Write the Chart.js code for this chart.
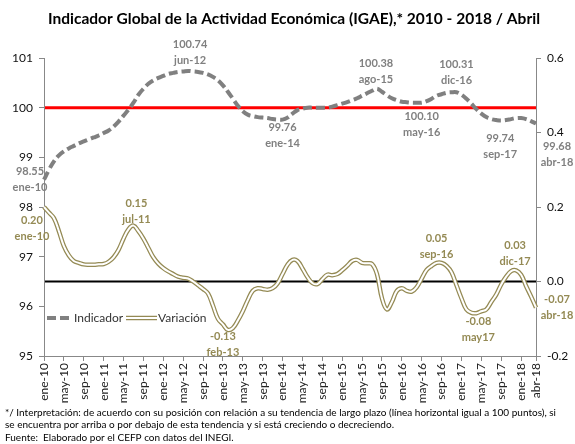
<!DOCTYPE html>
<html>
<head>
<meta charset="utf-8">
<script src="https://cdn.jsdelivr.net/npm/chart.js@4.4.1/dist/chart.umd.min.js"></script>
<style>
  html, body { margin: 0; padding: 0; background: #fff; }
  #chart { display: block; }
</style>
</head>
<body>
<canvas id="chart" width="575" height="444"></canvas>
<script>
// Monthly series, ene-10 .. abr-18
const monthNames = ['ene', 'feb', 'mar', 'abr', 'may', 'jun', 'jul', 'ago', 'sep', 'oct', 'nov', 'dic'];
const years = ['10', '11', '12', '13', '14', '15', '16', '17', '18'];

const indicador = [
  98.55, 98.75, 98.92, 99.04, 99.12, 99.18, 99.23, 99.28, 99.32, 99.36, 99.40, 99.44,
  99.49, 99.54, 99.62, 99.72, 99.84, 99.96, 100.10, 100.26, 100.38, 100.48, 100.55, 100.60,
  100.64, 100.68, 100.70, 100.72, 100.73, 100.74, 100.73, 100.72, 100.70, 100.67, 100.62, 100.55,
  100.45, 100.32, 100.18, 100.04, 99.93, 99.86, 99.83, 99.81, 99.80, 99.79, 99.77, 99.76,
  99.76, 99.80, 99.88, 99.95, 99.98, 100.00, 100.00, 100.00, 100.00, 100.00, 100.02, 100.05,
  100.08, 100.11, 100.15, 100.19, 100.24, 100.29, 100.34, 100.38, 100.32, 100.25, 100.19, 100.15,
  100.12, 100.11, 100.10, 100.10, 100.10, 100.13, 100.18, 100.24, 100.27, 100.30, 100.31, 100.31,
  100.26, 100.18, 100.08, 99.97, 99.88, 99.81, 99.77, 99.75, 99.74, 99.75, 99.77, 99.79,
  99.79, 99.77, 99.73, 99.68
];

const variacion = [
  0.20, 0.185, 0.17, 0.135, 0.095, 0.07, 0.055, 0.05, 0.046, 0.045, 0.045, 0.046,
  0.047, 0.053, 0.065, 0.085, 0.115, 0.14, 0.15, 0.135, 0.115, 0.09, 0.065, 0.048,
  0.036, 0.027, 0.02, 0.013, 0.01, 0.008, 0.0, -0.01, -0.02, -0.032, -0.065, -0.10,
  -0.115, -0.13, -0.125, -0.105, -0.08, -0.05, -0.025, -0.018, -0.02, -0.022, -0.018, -0.005,
  0.02, 0.045, 0.058, 0.055, 0.035, 0.012, -0.004, -0.007, 0.006, 0.018, 0.017, 0.02,
  0.03, 0.042, 0.055, 0.058, 0.05, 0.049, 0.047, 0.02, -0.045, -0.075, -0.055, -0.025,
  -0.018, -0.025, -0.027, -0.015, 0.008, 0.031, 0.042, 0.05, 0.05, 0.042, 0.025, -0.01,
  -0.045, -0.075, -0.084, -0.085, -0.08, -0.075, -0.055, -0.035, -0.008, 0.013, 0.028, 0.03,
  0.018, -0.012, -0.04, -0.07
];

// Reference levels
const tendenciaIndicador = 100;
const tendenciaVariacion = 0;

// Axis ticks
const leftTicks = [95, 96, 97, 98, 99, 100, 101];
const rightTicks = [-0.2, 0.0, 0.2, 0.4, 0.6];

// Annotated points: [index, value label, date label]
const indicadorLabels = [
  [0, '98.55', 'ene-10'],
  [29, '100.74', 'jun-12'],
  [48, '99.76', 'ene-14'],
  [67, '100.38', 'ago-15'],
  [76, '100.10', 'may-16'],
  [83, '100.31', 'dic-16'],
  [92, '99.74', 'sep-17'],
  [99, '99.68', 'abr-18']
];
const variacionLabels = [
  [0, '0.20', 'ene-10'],
  [18, '0.15', 'jul-11'],
  [37, '-0.13', 'feb-13'],
  [80, '0.05', 'sep-16'],
  [88, '-0.08', 'may17'],
  [95, '0.03', 'dic-17'],
  [99, '-0.07', 'abr-18']
];

const categories = [];
years.forEach(y => monthNames.forEach(m => categories.push(m + '-' + y)));
categories.length = indicador.length;

// label offsets from the point (dx, dy of first line centre)
const indOffsets = {0: [-14, -8], 29: [2, -26], 48: [0, 8], 67: [-1, -25], 76: [0, 14], 83: [0, -28], 92: [-1, 18], 99: [21, 23]};
const varOffsets = {0: [-12, 13], 18: [3, -22], 37: [-5, 7], 80: [-5, -24], 88: [-3, 10], 95: [-1, -25], 99: [21, -8]};

const GRAY = '#808080';
const OLIVE = '#948A54';
const FONT = 'Lato, "Open Sans", sans-serif';

Chart.defaults.font.family = FONT;
Chart.defaults.color = '#222';

const decorPlugin = {
  id: 'decor',
  beforeDatasetsDraw(chart) {
    const ctx = chart.ctx;
    const area = chart.chartArea;
    const yL = chart.scales.y, yR = chart.scales.y1;
    ctx.save();
    ctx.lineWidth = 3;
    ctx.strokeStyle = '#FF0000';
    let py = yL.getPixelForValue(tendenciaIndicador);
    ctx.beginPath(); ctx.moveTo(area.left + 1, py); ctx.lineTo(area.right, py); ctx.stroke();
    ctx.lineWidth = 2;
    ctx.strokeStyle = '#000';
    py = yR.getPixelForValue(tendenciaVariacion);
    ctx.beginPath(); ctx.moveTo(area.left + 1, py); ctx.lineTo(area.right, py); ctx.stroke();
    ctx.restore();
  },
  afterDraw(chart) {
    const ctx = chart.ctx;
    const x = chart.scales.x, yL = chart.scales.y, yR = chart.scales.y1;
    ctx.save();

    // title
    ctx.fillStyle = '#000';
    ctx.font = 'bold 15.5px ' + FONT;
    ctx.textAlign = 'center';
    ctx.textBaseline = 'middle';
    ctx.fillText('Indicador Global de la Actividad Económica (IGAE),* 2010 - 2018 / Abril', 294, 19, 492);

    // data labels
    ctx.font = 'bold 11px ' + FONT;
    ctx.fillStyle = GRAY;
    indicadorLabels.forEach(([i, v, d]) => {
      const o = indOffsets[i];
      const px = x.getPixelForValue(i) + o[0];
      const py = yL.getPixelForValue(indicador[i]) + o[1];
      ctx.fillText(v, px, py);
      ctx.fillText(d, px, py + 16);
    });
    ctx.fillStyle = OLIVE;
    variacionLabels.forEach(([i, v, d]) => {
      const o = varOffsets[i];
      const px = x.getPixelForValue(i) + o[0];
      const py = yR.getPixelForValue(variacion[i]) + o[1];
      ctx.fillText(v, px, py);
      ctx.fillText(d, px, py + 16);
    });

    // legend
    const ly = 318;
    ctx.lineWidth = 4;
    ctx.strokeStyle = GRAY;
    ctx.setLineDash([9, 4]);
    ctx.beginPath(); ctx.moveTo(47, ly); ctx.lineTo(72, ly); ctx.stroke();
    ctx.setLineDash([]);
    ctx.strokeStyle = OLIVE;
    ctx.lineWidth = 4.5;
    ctx.beginPath(); ctx.moveTo(126, ly); ctx.lineTo(157, ly); ctx.stroke();
    ctx.strokeStyle = '#fff';
    ctx.lineWidth = 2;
    ctx.beginPath(); ctx.moveTo(126, ly); ctx.lineTo(157, ly); ctx.stroke();
    ctx.fillStyle = '#333';
    ctx.font = '12px ' + FONT;
    ctx.textAlign = 'left';
    ctx.fillText('Indicador', 74, ly, 50);
    ctx.fillText('Variación', 158, ly, 49);

    // footnote
    ctx.fillStyle = '#000';
    ctx.font = '10px ' + FONT;
    ctx.fillText('*/ Interpretación: de acuerdo con su posición con relación a su tendencia de largo plazo (línea horizontal igual a 100 puntos), si', 5, 413, 568);
    ctx.fillText('se encuentra por arriba o por debajo de esta tendencia y si está creciendo o decreciendo.', 5, 425, 462);
    ctx.fillText('Fuente:  Elaborado por el CEFP con datos del INEGI.', 5, 438, 262);
    ctx.restore();
  }
};

new Chart(document.getElementById('chart'), {
  type: 'line',
  data: {
    labels: categories,
    datasets: [
      {
        label: 'Indicador',
        data: indicador,
        yAxisID: 'y',
        borderColor: GRAY,
        borderWidth: 4,
        borderDash: [9, 4],
        pointRadius: 0,
        tension: 0.4,
        fill: false,
        order: 0
      },
      {
        label: 'Variación',
        data: variacion,
        yAxisID: 'y1',
        borderColor: OLIVE,
        borderWidth: 4.5,
        pointRadius: 0,
        tension: 0.4,
        fill: false,
        order: 2
      },
      {
        // white core on top of the olive stroke gives the double line
        label: 'Variación (centro)',
        data: variacion,
        yAxisID: 'y1',
        borderColor: '#fff',
        borderWidth: 2,
        pointRadius: 0,
        tension: 0.4,
        fill: false,
        order: 1
      }
    ]
  },
  options: {
    responsive: false,
    animation: false,
    devicePixelRatio: 1,
    layout: { padding: { top: 58, left: 0, right: 0, bottom: 0 } },
    plugins: {
      legend: { display: false },
      title: { display: false },
      tooltip: { enabled: false }
    },
    scales: {
      x: {
        type: 'category',
        offset: false,
        grid: { display: true, drawOnChartArea: false, drawTicks: true, tickLength: 5, color: '#888' },
        border: { color: '#888' },
        ticks: {
          autoSkip: false,
          maxRotation: 90,
          minRotation: 90,
          padding: 2,
          font: { size: 12 },
          color: '#222',
          callback: function(val, idx) {
            return (idx % 4 === 0 || idx === categories.length - 1) ? categories[idx] : null;
          }
        },
        afterFit(scale) { scale.height = 88; }
      },
      y: {
        position: 'left',
        min: leftTicks[0],
        max: leftTicks[leftTicks.length - 1],
        afterBuildTicks(scale) { scale.ticks = leftTicks.map(v => ({ value: v })); },
        grid: { drawOnChartArea: false, drawTicks: true, tickLength: 5, color: '#888' },
        border: { color: '#888' },
        ticks: { font: { size: 12 }, color: '#111', padding: 6 },
        afterFit(scale) { scale.width = 44; }
      },
      y1: {
        position: 'right',
        min: rightTicks[0],
        max: rightTicks[rightTicks.length - 1],
        afterBuildTicks(scale) { scale.ticks = rightTicks.map(v => ({ value: v })); },
        grid: { drawOnChartArea: false, drawTicks: true, tickLength: 5, color: '#888' },
        border: { color: '#888' },
        ticks: {
          font: { size: 12 }, color: '#111', padding: 6,
          callback: v => Number(v).toFixed(1)
        },
        afterFit(scale) { scale.width = 39; }
      }
    }
  },
  plugins: [decorPlugin]
});
</script>
</body>
</html>
